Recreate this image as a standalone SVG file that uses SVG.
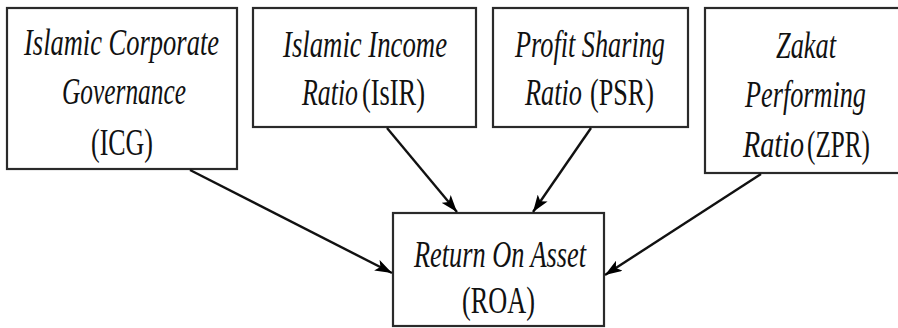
<svg xmlns="http://www.w3.org/2000/svg" width="898" height="328" viewBox="0 0 898 328">
<defs>
<style>
.box{fill:#fff;stroke:#2a2a2a;stroke-width:2.2}
.t{font-size:37px;fill:#111}
.i{font-style:italic}
.edge{stroke:#111;stroke-width:2.4;fill:none;marker-end:url(#ah)}
</style>
<marker id="ah" markerUnits="userSpaceOnUse" markerWidth="18" markerHeight="12" refX="17" refY="6" orient="auto">
<path d="M0,0 L17,6 L0,12 L4,6 Z" fill="#000"/>
</marker>
</defs>
<rect width="898" height="328" fill="#fff"/>
<g font-family="'Liberation Serif', 'DejaVu Serif', serif">
<g id="ICG">
<rect class="box" x="7" y="8" width="230" height="161"/>
<text class="t i" x="24" y="55" textLength="195" lengthAdjust="spacingAndGlyphs">Islamic Corporate</text>
<text class="t i" x="62" y="104" textLength="124" lengthAdjust="spacingAndGlyphs">Governance</text>
<text class="t" x="91" y="155" textLength="62" lengthAdjust="spacingAndGlyphs">(ICG)</text>
</g>
<g id="IsIR">
<rect class="box" x="253" y="8" width="223" height="119"/>
<text class="t i" x="283" y="57" textLength="164" lengthAdjust="spacingAndGlyphs">Islamic Income</text>
<text class="t i" x="302" y="105" textLength="56" lengthAdjust="spacingAndGlyphs">Ratio</text>
<text class="t" x="362" y="105" textLength="63" lengthAdjust="spacingAndGlyphs">(IsIR)</text>
</g>
<g id="PSR">
<rect class="box" x="493" y="8" width="195" height="119"/>
<text class="t i" x="515" y="57" textLength="150" lengthAdjust="spacingAndGlyphs">Profit Sharing</text>
<text class="t i" x="525" y="105" textLength="57" lengthAdjust="spacingAndGlyphs">Ratio</text>
<text class="t" x="590" y="105" textLength="64" lengthAdjust="spacingAndGlyphs">(PSR)</text>
</g>
<g id="ZPR">
<rect class="box" x="705" y="8" width="200" height="165"/>
<text class="t i" x="776" y="58" textLength="60" lengthAdjust="spacingAndGlyphs">Zakat</text>
<text class="t i" x="745" y="107" textLength="121" lengthAdjust="spacingAndGlyphs">Performing</text>
<text class="t i" x="743" y="157" textLength="61" lengthAdjust="spacingAndGlyphs">Ratio</text>
<text class="t" x="807" y="157" textLength="63" lengthAdjust="spacingAndGlyphs">(ZPR)</text>
</g>
<g id="ROA">
<rect class="box" x="393" y="213" width="211" height="113"/>
<text class="t i" x="414" y="267" textLength="172" lengthAdjust="spacingAndGlyphs">Return On Asset</text>
<text class="t" x="462" y="313" textLength="73" lengthAdjust="spacingAndGlyphs">(ROA)</text>
</g>
</g>
<g id="connectors">
<line class="edge" x1="190" y1="170" x2="392" y2="273"/>
<line class="edge" x1="387" y1="128" x2="457" y2="212"/>
<line class="edge" x1="591" y1="128" x2="533" y2="212"/>
<line class="edge" x1="761" y1="174" x2="605" y2="275"/>
</g>
</svg>
